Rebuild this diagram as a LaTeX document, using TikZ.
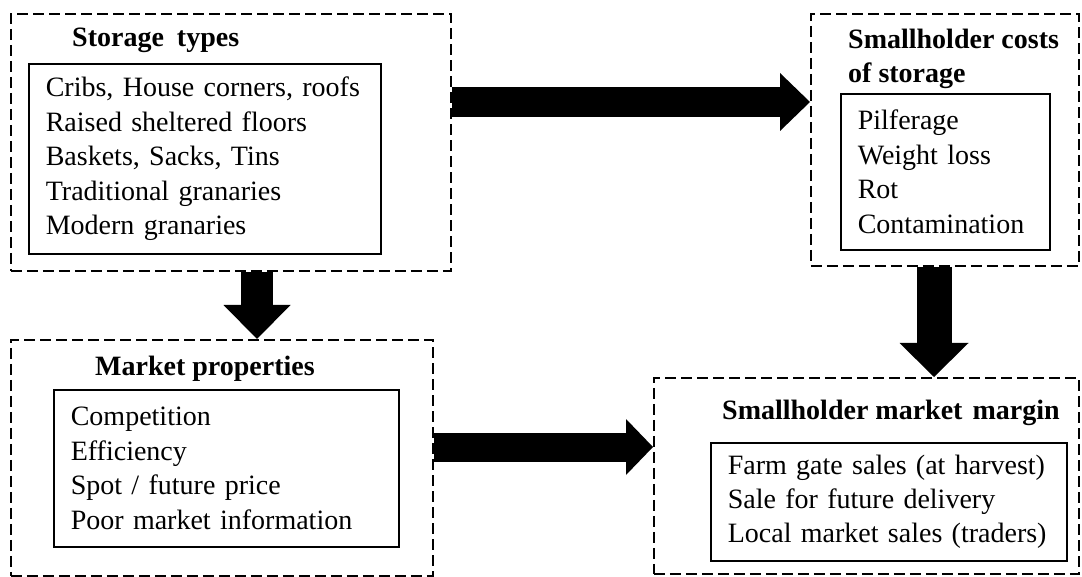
\documentclass[tikz,border=0pt]{standalone}
\usepackage{fontspec}
\setmainfont{Liberation Serif}
\usetikzlibrary{arrows.meta}
\begin{document}
\begin{tikzpicture}[x=1pt,y=-1pt,
  outerbox/.style={draw, dash pattern=on 11pt off 5pt, line width=1.8pt,
    inner sep=0pt, anchor=north west},
  listbox/.style={draw, line width=1.6pt, inner xsep=17pt, inner ysep=0pt,
    anchor=north west, align=left, font=\fontsize{28}{34.4}\selectfont},
  heading/.style={font=\bfseries\fontsize{28}{34}\selectfont, inner sep=0pt,
    anchor=base west, align=left},
  blockarrow/.style n args={3}{line width=#1,
    -{Triangle[length=#2,width=#3,line width=0pt]}}
]
\useasboundingbox (0,0) rectangle (1082,577);

% group frames
\node[outerbox, minimum width=440pt, minimum height=257pt] (st) at (10,13) {};
\node[outerbox, minimum width=268pt, minimum height=252pt] (sc) at (810,13) {};
\node[outerbox, minimum width=422pt, minimum height=236pt] (mp) at (10,339) {};
\node[outerbox, minimum width=425pt, minimum height=196pt] (mm) at (653,377) {};

% headings
\node[heading] (stt) at (72,47) {Storage\hspace{6pt} types};
\node[heading, anchor=north west] (sct) at (848,29) {Smallholder costs\\of storage};
\node[heading] (mpt) at (95,376) {Market properties};
\node[heading] (mmt) at (722,419) {Smallholder market\hspace{3pt} margin};

% item lists
\node[listbox, text width=318pt, minimum height=190pt] (stl) at (28,63)
  {Cribs, House corners, roofs\\Raised sheltered floors\\Baskets, Sacks, Tins\\Traditional granaries\\Modern granaries};
\node[listbox, text width=175pt, minimum height=156pt] (scl) at (840,93)
  {Pilferage\\Weight loss\\Rot\\Contamination};
\node[listbox, text width=311pt, minimum height=157pt] (mpl) at (53,389)
  {Competition\\Efficiency\\Spot / future price\\Poor market information};
\node[listbox, text width=322pt, minimum height=118pt] (mml) at (710,442)
  {Farm gate sales (at harvest)\\Sale for future delivery\\Local market sales (traders)};

% block arrows between the frames
\coordinate (a1s) at ([yshift=-89pt]st.north east);
\coordinate (a2s) at ([xshift=247pt]st.south west);
\coordinate (a3s) at ([xshift=124pt]sc.south west);
\coordinate (a4s) at ([yshift=-108pt]mp.north east);
\draw[blockarrow={30pt}{30pt}{58pt}] (a1s) -- (a1s -| sc.west);
\draw[blockarrow={32pt}{34pt}{67pt}] (a2s) -- (a2s |- mp.north);
\draw[blockarrow={35pt}{34pt}{69pt}] (a3s) -- (a3s |- mm.north);
\draw[blockarrow={29pt}{27pt}{56pt}] (a4s) -- (a4s -| mm.west);
\end{tikzpicture}
\end{document}
